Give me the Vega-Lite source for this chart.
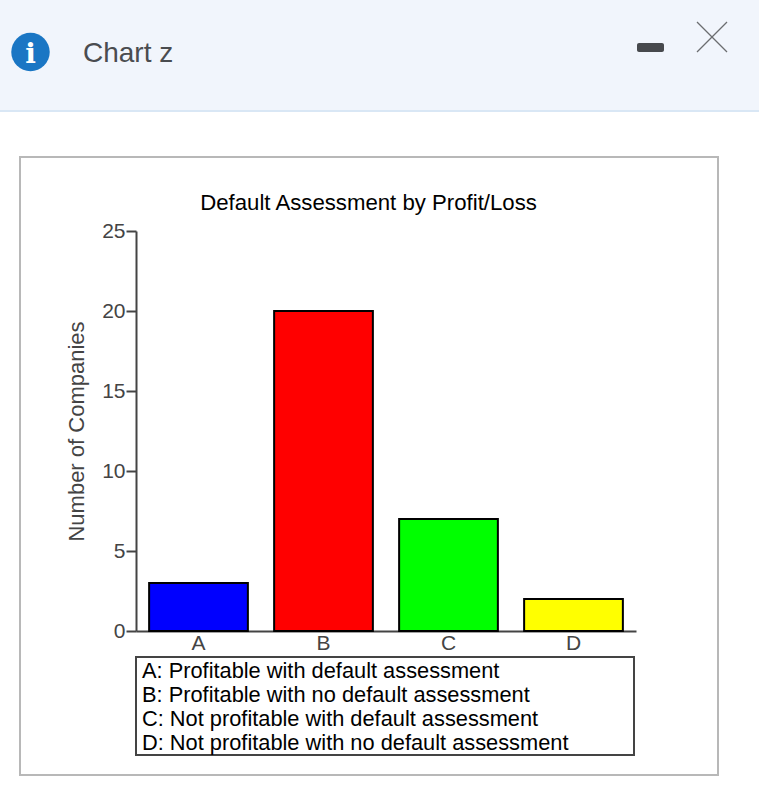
{
  "$schema": "https://vega.github.io/schema/vega-lite/v6.json",
  "width": 500,
  "height": 400,
  "autosize": "none",
  "padding": {"left": 136, "top": 231, "right": 123, "bottom": 156},
  "background": "white",
  "config": {"font": "Liberation Sans", "view": {"stroke": null}},
  "datasets": {
    "bars": [
      {"category": "A", "companies": 3},
      {"category": "B", "companies": 20},
      {"category": "C", "companies": 7},
      {"category": "D", "companies": 2}
    ],
    "notes": [
      {"note": "A: Profitable with default assessment", "left": 142, "base": 678},
      {"note": "B: Profitable with no default assessment", "left": 142, "base": 702},
      {"note": "C: Not profitable with default assessment", "left": 142, "base": 726},
      {"note": "D: Not profitable with no default assessment", "left": 142, "base": 750}
    ]
  },
  "layer": [
    {
      "data": {"values": [{"x0": 0, "x1": 759, "y0": 0, "y1": 110}]},
      "mark": {"type": "rect", "fill": "#f1f5fc", "clip": false},
      "encoding": {
        "x": {"field": "x0", "type": "quantitative", "scale": {"domain": [136, 636]}, "axis": null},
        "x2": {"field": "x1"},
        "y": {"field": "y0", "type": "quantitative", "scale": {"domain": [631, 231]}, "axis": null},
        "y2": {"field": "y1"}
      }
    },
    {
      "data": {"values": [{"x0": 0, "x1": 759, "y0": 110, "y1": 112}]},
      "mark": {"type": "rect", "fill": "#d9e7f5", "clip": false},
      "encoding": {
        "x": {"field": "x0", "type": "quantitative", "scale": {"domain": [136, 636]}, "axis": null},
        "x2": {"field": "x1"},
        "y": {"field": "y0", "type": "quantitative", "scale": {"domain": [631, 231]}, "axis": null},
        "y2": {"field": "y1"}
      }
    },
    {
      "data": {"values": [{"x0": 20, "x1": 718, "y0": 157, "y1": 775}]},
      "mark": {"type": "rect", "fillOpacity": 0, "stroke": "#b8b8b8", "strokeWidth": 2, "clip": false},
      "encoding": {
        "x": {"field": "x0", "type": "quantitative", "scale": {"domain": [136, 636]}, "axis": null},
        "x2": {"field": "x1"},
        "y": {"field": "y0", "type": "quantitative", "scale": {"domain": [631, 231]}, "axis": null},
        "y2": {"field": "y1"}
      }
    },
    {
      "data": {"values": [{"x0": 30.5, "y0": 52}]},
      "mark": {"type": "circle", "size": 1480, "color": "#1a76c4", "opacity": 1, "clip": false},
      "encoding": {
        "x": {"field": "x0", "type": "quantitative", "scale": {"domain": [136, 636]}, "axis": null},
        "y": {"field": "y0", "type": "quantitative", "scale": {"domain": [631, 231]}, "axis": null}
      }
    },
    {
      "data": {"values": [{"x0": 30.5, "y0": 63, "glyph": "i"}]},
      "mark": {"type": "text", "font": "DejaVu Serif", "fontWeight": "bold", "fontSize": 28, "color": "white", "align": "center", "baseline": "alphabetic", "clip": false},
      "encoding": {
        "x": {"field": "x0", "type": "quantitative", "scale": {"domain": [136, 636]}, "axis": null},
        "y": {"field": "y0", "type": "quantitative", "scale": {"domain": [631, 231]}, "axis": null},
        "text": {"field": "glyph"}
      }
    },
    {
      "data": {"values": [{"x0": 83, "y0": 62, "label": "Chart z"}]},
      "mark": {"type": "text", "fontSize": 28, "color": "#4a4c50", "align": "left", "baseline": "alphabetic", "clip": false},
      "encoding": {
        "x": {"field": "x0", "type": "quantitative", "scale": {"domain": [136, 636]}, "axis": null},
        "y": {"field": "y0", "type": "quantitative", "scale": {"domain": [631, 231]}, "axis": null},
        "text": {"field": "label"}
      }
    },
    {
      "data": {"values": [{"x0": 637, "x1": 664, "y0": 43, "y1": 52}]},
      "mark": {"type": "rect", "fill": "#47494d", "cornerRadius": 2, "clip": false},
      "encoding": {
        "x": {"field": "x0", "type": "quantitative", "scale": {"domain": [136, 636]}, "axis": null},
        "x2": {"field": "x1"},
        "y": {"field": "y0", "type": "quantitative", "scale": {"domain": [631, 231]}, "axis": null},
        "y2": {"field": "y1"}
      }
    },
    {
      "data": {"values": [
        {"x0": 697, "x1": 727, "y0": 22, "y1": 52},
        {"x0": 697, "x1": 727, "y0": 52, "y1": 22}
      ]},
      "mark": {"type": "rule", "color": "#6b6d70", "strokeWidth": 1.2, "clip": false},
      "encoding": {
        "x": {"field": "x0", "type": "quantitative", "scale": {"domain": [136, 636]}, "axis": null},
        "x2": {"field": "x1"},
        "y": {"field": "y0", "type": "quantitative", "scale": {"domain": [631, 231]}, "axis": null},
        "y2": {"field": "y1"}
      }
    },
    {
      "data": {"values": [{"x0": 368.5, "y0": 210, "label": "Default Assessment by Profit/Loss"}]},
      "mark": {"type": "text", "fontSize": 22.2, "color": "black", "align": "center", "baseline": "alphabetic", "clip": false},
      "encoding": {
        "x": {"field": "x0", "type": "quantitative", "scale": {"domain": [136, 636]}, "axis": null},
        "y": {"field": "y0", "type": "quantitative", "scale": {"domain": [631, 231]}, "axis": null},
        "text": {"field": "label"}
      }
    },
    {
      "data": {"name": "bars"},
      "mark": {"type": "bar", "stroke": "black", "strokeWidth": 2},
      "encoding": {
        "x": {
          "field": "category",
          "type": "nominal",
          "title": null,
          "scale": {"paddingInner": 0.21, "paddingOuter": 0.105},
          "axis": {
            "labelAngle": 0,
            "labelFontSize": 21,
            "labelColor": "#444444",
            "labelPadding": 1,
            "ticks": false,
            "domainColor": "#444444",
            "domainWidth": 2
          }
        },
        "y": {
          "field": "companies",
          "type": "quantitative",
          "title": "Number of Companies",
          "scale": {"domain": [0, 25]},
          "axis": {
            "values": [0, 5, 10, 15, 20, 25],
            "grid": false,
            "labelFontSize": 21,
            "labelColor": "#444444",
            "labelPadding": 1,
            "tickSize": 10,
            "tickColor": "#444444",
            "tickWidth": 2,
            "domainColor": "#444444",
            "domainWidth": 2,
            "titleFontSize": 22,
            "titleFontWeight": "normal",
            "titleColor": "#444444",
            "titlePadding": 13
          }
        },
        "fill": {
          "field": "category",
          "type": "nominal",
          "legend": null,
          "scale": {"domain": ["A", "B", "C", "D"], "range": ["#0000ff", "#ff0000", "#00ff00", "#ffff00"]}
        }
      }
    },
    {
      "data": {"values": [{"x0": 136, "x1": 634, "y0": 657, "y1": 755}]},
      "mark": {"type": "rect", "fill": "white", "stroke": "#444444", "strokeWidth": 2, "clip": false},
      "encoding": {
        "x": {"field": "x0", "type": "quantitative", "scale": {"domain": [136, 636]}, "axis": null},
        "x2": {"field": "x1"},
        "y": {"field": "y0", "type": "quantitative", "scale": {"domain": [631, 231]}, "axis": null},
        "y2": {"field": "y1"}
      }
    },
    {
      "data": {"name": "notes"},
      "mark": {"type": "text", "fontSize": 21.8, "color": "black", "align": "left", "baseline": "alphabetic", "clip": false},
      "encoding": {
        "x": {"field": "left", "type": "quantitative", "scale": {"domain": [136, 636]}, "axis": null},
        "y": {"field": "base", "type": "quantitative", "scale": {"domain": [631, 231]}, "axis": null},
        "text": {"field": "note"}
      }
    }
  ],
  "resolve": {"scale": {"x": "independent", "y": "independent"}}
}
